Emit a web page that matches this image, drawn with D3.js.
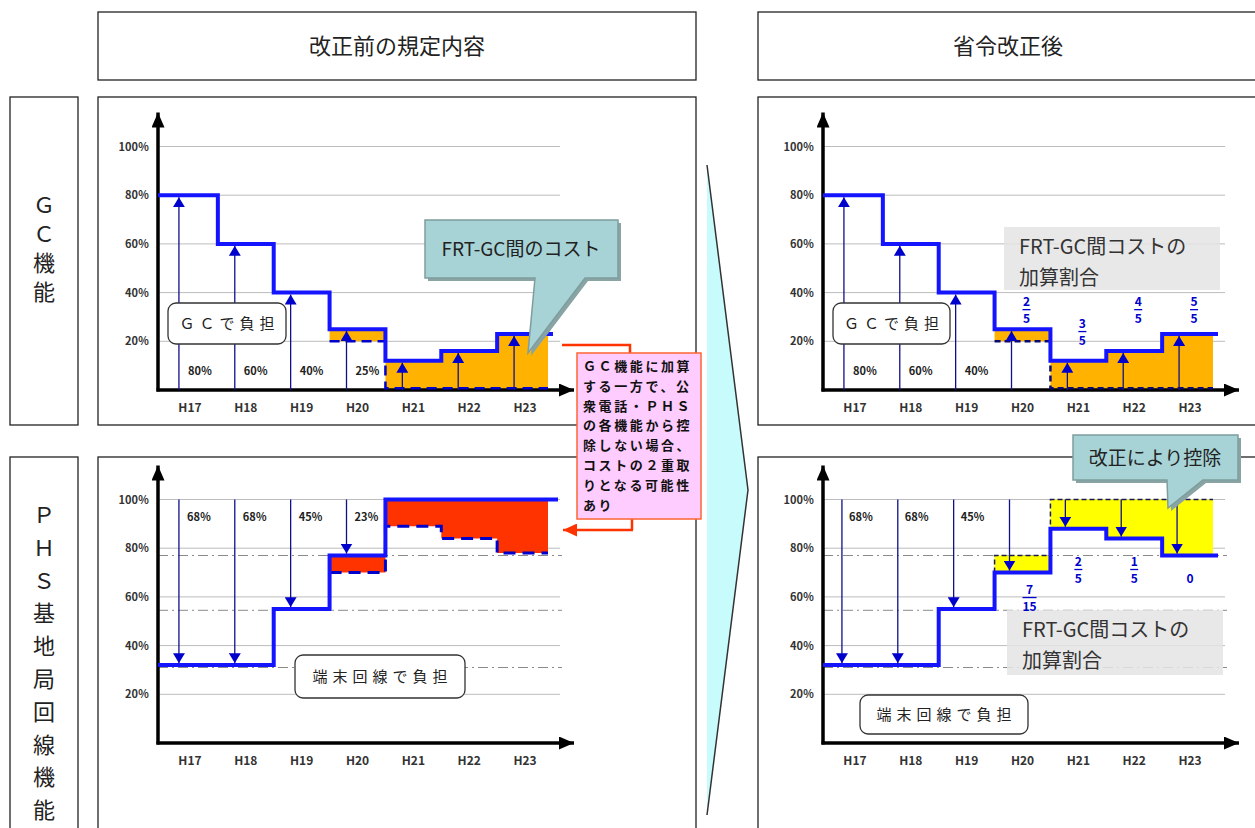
<!DOCTYPE html>
<html>
<head>
<meta charset="utf-8">
<script src="https://cdn.jsdelivr.net/npm/d3@7"></script>
<style>
  body { margin: 0; background: #fff; }
</style>
</head>
<body>
<svg id="chart" width="1255" height="828"></svg>
<script>
const FONT = '"Noto Sans CJK JP", "Noto Sans", sans-serif';

const years = ["H17", "H18", "H19", "H20", "H21", "H22", "H23"];
const yTicks = [20, 40, 60, 80, 100];

// GC function: share borne by GC (solid) and level without the FRT-GC cost (dashed)
const gcShare = [80, 60, 40, 25, 12, 16, 23];
const gcBase = [80, 60, 40, 20, 0, 0, 0];
const gcFractions = ["2/5", "3/5", "4/5", "5/5"];      // H20..H23, after revision

// PHS base-station line function: share borne by the terminal line
const phsBefore = [32, 32, 55, 77, 100, 100, 100];
const phsBeforeDash = [32, 32, 55, 70, 89, 84, 78];
const phsAfter = [32, 32, 55, 70, 88, 84, 77];
const phsAfterTop = [32, 32, 55, 77, 100, 100, 100];
const phsRefLevels = [77, 54.5, 31];
const phsFractions = ["7/15", "2/5", "1/5", "0"];     // H20..H23, after revision

const noteLines = ["ＧＣ機能に加算", "する一方で、公", "衆電話・ＰＨＳ", "の各機能から控",
                   "除しない場合、", "コストの２重取", "りとなる可能性", "あり"];

const svg = d3.select("#chart").attr("font-family", FONT);
const defs = svg.append("defs");

function marker(id, w, h, color) {
    defs.append("marker").attr("id", id)
        .attr("viewBox", "0 0 10 10").attr("refX", 10).attr("refY", 5)
        .attr("preserveAspectRatio", "none")
        .attr("markerWidth", w).attr("markerHeight", h)
        .attr("markerUnits", "userSpaceOnUse").attr("orient", "auto")
        .append("path").attr("d", "M0,0L10,5L0,10Z").attr("fill", color);
}
marker("blueHead", 10, 12, "#0000cc");
marker("axisHead", 15, 13, "#000");
marker("redHead", 14, 13, "#ff3300");

function scales(x0, y0) {
    return {
        x0, y0,
        x: d3.scaleBand().domain(years).range([x0 + 4, x0 + 395]),
        y: d3.scaleLinear().domain([0, 100]).range([y0, y0 - 243.5]),
        lineEnd: x0 + 395,
        fillEnd: x0 + 390
    };
}
const cx = (s, yr) => s.x(yr) + s.x.bandwidth() / 2;

// ---------- layout boxes ----------
function box(x, y, w, h) {
    svg.append("rect").attr("x", x).attr("y", y).attr("width", w).attr("height", h)
        .attr("fill", "#fff").attr("stroke", "#222").attr("stroke-width", 1.3);
}
box(98, 12, 598, 68);
box(758, 12, 520, 68);
box(10, 97, 68, 328);
box(10, 457, 68, 390);
box(98, 97, 598, 328);
box(98, 457, 598, 390);
box(758, 97, 520, 328);
box(758, 457, 520, 390);

svg.append("text").attr("x", 397).attr("y", 54).attr("text-anchor", "middle")
    .attr("font-size", 22).attr("fill", "#222").text("改正前の規定内容");
svg.append("text").attr("x", 1008).attr("y", 54).attr("text-anchor", "middle")
    .attr("font-size", 22).attr("fill", "#222").text("省令改正後");

function vertical(str, yStart, step) {
    svg.append("g").selectAll("text").data(Array.from(str)).join("text")
        .attr("x", 44).attr("y", (d, i) => yStart + i * step + 8)
        .attr("text-anchor", "middle").attr("font-size", 22).attr("fill", "#222")
        .text(d => d);
}
vertical("ＧＣ機能", 205, 29);
vertical("ＰＨＳ基地局回線機能", 515, 32.8);

// middle arrow
svg.append("path").attr("d", "M707,165L748,490L707,815Z").attr("fill", "#c8fcfc");
svg.append("path").attr("d", "M707,165L748,490L707,815").attr("fill", "none")
    .attr("stroke", "#333").attr("stroke-width", 1.5);

// ---------- chart helpers ----------
function grid(g, s, refs) {
    g.append("g").selectAll("line").data(yTicks).join("line")
        .attr("x1", s.x0).attr("x2", s.x0 + 402)
        .attr("y1", d => s.y(d)).attr("y2", d => s.y(d))
        .attr("stroke", "#bcbcbc").attr("stroke-width", 1);
    if (refs) {
        g.append("g").selectAll("line").data(refs).join("line")
            .attr("x1", s.x0).attr("x2", s.x0 + 404)
            .attr("y1", d => s.y(d)).attr("y2", d => s.y(d))
            .attr("stroke", "#8a8a8a").attr("stroke-width", 1)
            .attr("stroke-dasharray", "10,4,2,4");
    }
}

function axes(g, s) {
    g.append("g").attr("transform", `translate(${s.x0},0)`)
        .call(d3.axisLeft(s.y).tickValues(yTicks).tickSize(0).tickPadding(9).tickFormat(d => d + "％"))
        .attr("font-family", FONT).attr("font-size", 11).attr("font-weight", "bold")
        .call(a => a.select(".domain").remove())
        .selectAll("text").attr("fill", "#333");
    g.append("g").attr("transform", `translate(0,${s.y0})`)
        .call(d3.axisBottom(s.x).tickSize(0).tickPadding(13))
        .attr("font-family", FONT).attr("font-size", 12).attr("font-weight", "bold")
        .call(a => a.select(".domain").remove())
        .selectAll("text").attr("fill", "#333");
    g.append("line").attr("x1", s.x0).attr("x2", s.x0)
        .attr("y1", s.y0 + 1.5).attr("y2", s.y(100) - 34)
        .attr("stroke", "#000").attr("stroke-width", 3.5).attr("marker-end", "url(#axisHead)");
    g.append("line").attr("x1", s.x0 - 1.5).attr("x2", s.x0 + 416)
        .attr("y1", s.y0).attr("y2", s.y0)
        .attr("stroke", "#000").attr("stroke-width", 3.5).attr("marker-end", "url(#axisHead)");
}

// stepped points from index `from`, starting at startX (or band start), ending at endX
function stepPts(s, vals, from, startX, endX) {
    const pts = [];
    for (let i = from; i < years.length; i++) {
        pts.push([i === from && startX != null ? startX : s.x(years[i]), vals[i]]);
    }
    pts.push([endX, vals[vals.length - 1]]);
    return pts;
}
function bandPts(s, lo, hi, from, endX) {
    const pts = [];
    for (let i = from; i < years.length; i++) pts.push([s.x(years[i]), lo[i], hi[i]]);
    pts.push([endX, lo[lo.length - 1], hi[hi.length - 1]]);
    return pts;
}
const stepLine = s => d3.line().x(d => d[0]).y(d => s.y(d[1])).curve(d3.curveStepAfter);
const stepArea = s => d3.area().x(d => d[0]).y0(d => s.y(d[1])).y1(d => s.y(d[2])).curve(d3.curveStepAfter);

function solid(g, s, pts) {
    g.append("path").attr("d", stepLine(s)(pts)).attr("fill", "none")
        .attr("stroke", "#1414ff").attr("stroke-width", 4).attr("stroke-linejoin", "miter");
}
function dashed(g, s, pts, color, w, dash) {
    g.append("path").attr("d", stepLine(s)(pts)).attr("fill", "none")
        .attr("stroke", color).attr("stroke-width", w).attr("stroke-dasharray", dash);
}
function fill(g, s, pts, color) {
    g.append("path").attr("d", stepArea(s)(pts)).attr("fill", color);
}

function arrows(g, s, idx, from, to, dx) {
    g.append("g").selectAll("line").data(idx).join("line")
        .attr("x1", i => cx(s, years[i]) + dx).attr("x2", i => cx(s, years[i]) + dx)
        .attr("y1", i => s.y(from(i))).attr("y2", i => s.y(to(i)))
        .attr("stroke", "#10108a").attr("stroke-width", 1.3)
        .attr("marker-end", "url(#blueHead)");
}

function labels(g, s, idx, text, yPos, dx) {
    g.append("g").selectAll("text").data(idx).join("text")
        .attr("x", i => cx(s, years[i]) + dx).attr("y", yPos)
        .attr("text-anchor", "middle").attr("font-size", 11).attr("font-weight", "bold")
        .attr("fill", "#222").text(text);
}

function fraction(g, x, barY, str) {
    const [n, d] = str.split("/");
    const t = g.append("g").attr("fill", "#0000cc").attr("font-size", 12)
        .attr("font-weight", "bold").attr("text-anchor", "middle");
    if (!d) {
        t.append("text").attr("x", x).attr("y", barY + 13).text(n);
        return;
    }
    t.append("text").attr("x", x).attr("y", barY - 4).text(n);
    t.append("text").attr("x", x).attr("y", barY + 13).text(d);
    const hw = d.length > 1 ? 7 : 4;
    g.append("line").attr("x1", x - hw).attr("x2", x + hw).attr("y1", barY).attr("y2", barY)
        .attr("stroke", "#0000cc").attr("stroke-width", 1.3);
}

function roundBox(g, x, y, w, h, str, fs, ls) {
    g.append("rect").attr("x", x).attr("y", y).attr("width", w).attr("height", h)
        .attr("rx", 8).attr("fill", "#fff").attr("stroke", "#333").attr("stroke-width", 1.3);
    g.append("text").attr("x", x + w / 2 + ls / 2).attr("y", y + h / 2 + fs * 0.36)
        .attr("text-anchor", "middle").attr("font-size", fs).attr("letter-spacing", ls)
        .attr("fill", "#222").text(str);
}

function grayBox(g, x, y, w, h, lines) {
    g.append("rect").attr("x", x).attr("y", y).attr("width", w).attr("height", h)
        .attr("fill", "#e4e4e4").attr("fill-opacity", 0.85);
    g.append("g").selectAll("text").data(lines).join("text")
        .attr("x", x + 15).attr("y", (d, i) => y + 27 + i * 31)
        .attr("font-size", 20).attr("fill", "#333").text(d => d);
}

function callout(g, d, str, tx, ty) {
    g.append("path").attr("d", d).attr("transform", "translate(3,3)").attr("fill", "#88a4a4");
    g.append("path").attr("d", d).attr("fill", "#a7d3d6")
        .attr("stroke", "#7f9d9d").attr("stroke-width", 1.5);
    g.append("text").attr("x", tx).attr("y", ty).attr("text-anchor", "middle")
        .attr("font-size", 19).attr("fill", "#222").text(str);
}

// ---------- top left: GC, before ----------
{
    const s = scales(158, 390), g = svg.append("g");
    grid(g, s);
    fill(g, s, bandPts(s, gcBase, gcShare, 3, s.fillEnd), "#ffb300");
    axes(g, s);
    dashed(g, s, stepPts(s, gcBase, 3, null, s.fillEnd).map(p => [p[0], Math.max(p[1], 0.7)]), "#0000cc", 2.5, "10,6");
    solid(g, s, stepPts(s, gcShare, 0, s.x0, s.lineEnd));
    arrows(g, s, d3.range(7), () => 0, i => gcShare[i] - 0.8, -11);
    labels(g, s, [0, 1, 2, 3], i => gcShare[i] + "％", 375, 10);
    roundBox(g, 168, 303, 118, 41, "ＧＣで負担", 15, 5);
    callout(g, "M425,220H618V278H585L528,353L535,278H425Z", "FRT-GC間のコスト", 521, 256);
}

// ---------- bottom left: PHS, before ----------
{
    const s = scales(158, 743), g = svg.append("g");
    grid(g, s, phsRefLevels);
    fill(g, s, bandPts(s, phsBeforeDash, phsBefore, 3, s.fillEnd), "#ff3300");
    axes(g, s);
    dashed(g, s, stepPts(s, phsBeforeDash, 3, null, s.fillEnd), "#0000cc", 3, "12,7");
    solid(g, s, stepPts(s, phsBefore, 0, s.x0, s.lineEnd + 5));
    arrows(g, s, [0, 1, 2, 3], () => 100, i => phsBefore[i] + 0.8, -11);
    labels(g, s, [0, 1, 2, 3], i => (100 - phsBefore[i]) + "％", 521, 9);
    roundBox(g, 295, 655, 170, 43, "端末回線で負担", 15, 5);
}

// ---------- top right: GC, after ----------
{
    const s = scales(823, 390), g = svg.append("g");
    grid(g, s);
    grayBox(g, 1004, 227, 216, 63, ["FRT-GC間コストの", "加算割合"]);
    fill(g, s, bandPts(s, gcBase, gcShare, 3, s.fillEnd), "#ffb300");
    axes(g, s);
    dashed(g, s, stepPts(s, gcBase, 3, null, s.fillEnd).map(p => [p[0], Math.max(p[1], 0.7)]), "#0a0a70", 2.5, "6,4");
    solid(g, s, stepPts(s, gcShare, 0, s.x0, s.lineEnd));
    arrows(g, s, d3.range(7), () => 0, i => gcShare[i] - 0.8, -11);
    labels(g, s, [0, 1, 2], i => gcShare[i] + "％", 375, 10);
    gcFractions.forEach((f, k) => fraction(g, cx(s, years[k + 3]) + 4, s.y(k === 1 ? 24 : 33), f));
    roundBox(g, 833, 303, 117, 41, "ＧＣで負担", 15, 5);
}

// ---------- bottom right: PHS, after ----------
{
    const s = scales(823, 743), g = svg.append("g");
    grid(g, s, phsRefLevels);
    grayBox(g, 1007, 610, 216, 65, ["FRT-GC間コストの", "加算割合"]);
    fill(g, s, bandPts(s, phsAfter, phsAfterTop, 3, s.fillEnd), "#ffff00");
    axes(g, s);
    const top = [[s.x(years[3]), phsAfter[3]]].concat(stepPts(s, phsAfterTop, 3, null, s.fillEnd));
    dashed(g, s, top, "#1a1a50", 1.5, "5,3");
    solid(g, s, stepPts(s, phsAfter, 0, s.x0, s.lineEnd));
    arrows(g, s, d3.range(7), () => 100, i => phsAfter[i] + 0.8, -13);
    labels(g, s, [0, 1, 2], i => (100 - phsAfter[i]) + "％", 521, 6);
    phsFractions.forEach((f, k) => fraction(g, cx(s, years[k + 3]) + (k === 0 ? 7 : 0),
        k === 0 ? s.y(phsAfter[3]) + 25 : s.y(phsRefLevels[0]) + 14, f));
    roundBox(g, 860, 695, 168, 39, "端末回線で負担", 15, 5);
    callout(g, "M1073,435H1238V480H1203L1168,508L1167,480H1073Z", "改正により控除", 1155, 465);
}

// ---------- note box with red connectors ----------
svg.append("path").attr("d", "M562,345H630V353").attr("fill", "none")
    .attr("stroke", "#ff3300").attr("stroke-width", 2.5);
svg.append("line").attr("x1", 632).attr("y1", 519).attr("x2", 632).attr("y2", 530)
    .attr("stroke", "#ff3300").attr("stroke-width", 2.5);
svg.append("line").attr("x1", 633).attr("y1", 530).attr("x2", 563).attr("y2", 530)
    .attr("stroke", "#ff3300").attr("stroke-width", 2.5).attr("marker-end", "url(#redHead)");
svg.append("rect").attr("x", 577).attr("y", 353).attr("width", 124).attr("height", 166)
    .attr("fill", "#ffccff").attr("stroke", "#ff6633").attr("stroke-width", 1.5);
svg.append("g").selectAll("text").data(noteLines).join("text")
    .attr("x", 583).attr("y", (d, i) => 371 + i * 19.8)
    .attr("font-size", 13).attr("font-weight", "bold").attr("letter-spacing", 2.6)
    .attr("fill", "#111").text(d => d);
</script>
</body>
</html>
